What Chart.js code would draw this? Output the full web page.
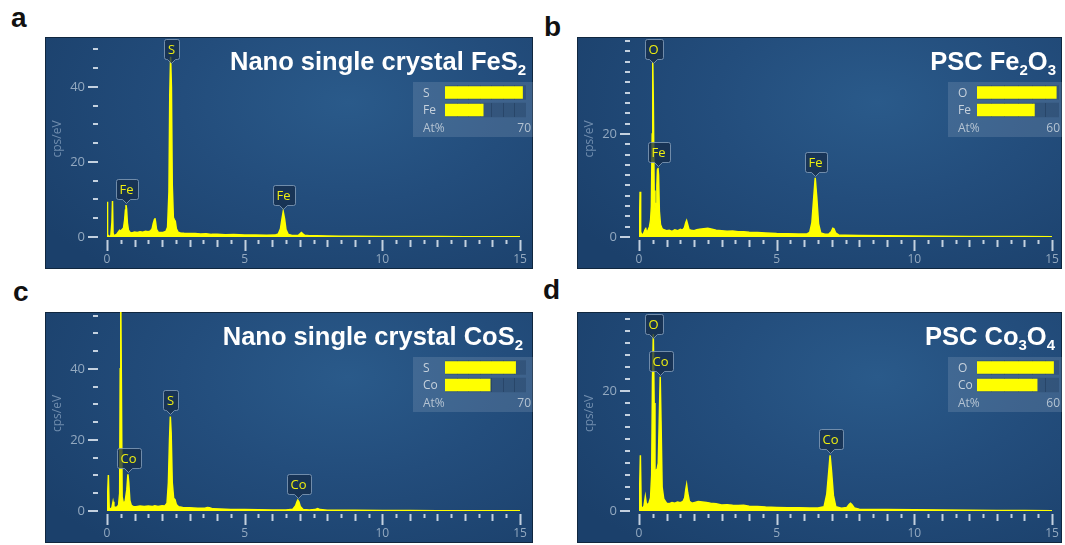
<!DOCTYPE html>
<html>
<head>
<meta charset="utf-8">
<script src="https://cdn.jsdelivr.net/npm/chart.js@4.4.1/dist/chart.umd.min.js"></script>
<style>
  body { margin: 0; background: #fff; width: 1065px; height: 545px; position: relative; overflow: hidden; font-family: "Liberation Sans", Arial, sans-serif; }
  .letter { position: absolute; font-weight: bold; font-size: 28px; line-height: 28px; color: #111; }
  .panel { position: absolute; overflow: hidden;
    background: radial-gradient(ellipse 75% 95% at 62% 28%, #2a5a8a 0%, #234d7c 45%, #1b406b 100%);
    box-shadow: inset 0 0 0 1px #10273f; }
  .panel canvas { position: absolute; }
  .title { position: absolute; top: 12px; color: #fff; font-weight: bold; font-size: 25.5px; line-height: 25px; white-space: nowrap; }
  .title span { font-size: 15px; position: relative; top: 5px; }
  .atbox { position: absolute; background: rgba(160, 178, 200, 0.22); }
</style>
</head>
<body>

<div class="letter" style="left:11px; top:4px;">a</div>
<div class="letter" style="left:544px; top:13px;">b</div>
<div class="letter" style="left:13px; top:278px;">c</div>
<div class="letter" style="left:543px; top:276px;">d</div>

<div class="panel" style="left:45px; top:37px; width:488px; height:232px;">
  <canvas id="specA" width="488" height="232" style="left:0; top:0;"></canvas>
  <div class="title" style="right:7px;">Nano single crystal FeS<span>2</span></div>
  <div class="atbox" style="left:368px; top:45px; width:120px; height:55px;"><canvas id="atA" width="120" height="55" style="left:0; top:0;"></canvas></div>
</div>

<div class="panel" style="left:577px; top:37px; width:485px; height:232px;">
  <canvas id="specB" width="485" height="232" style="left:0; top:0;"></canvas>
  <div class="title" style="right:6px;">PSC Fe<span>2</span>O<span>3</span></div>
  <div class="atbox" style="left:371px; top:45px; width:114px; height:55px;"><canvas id="atB" width="114" height="55" style="left:0; top:0;"></canvas></div>
</div>

<div class="panel" style="left:45px; top:312px; width:488px; height:231px;">
  <canvas id="specC" width="488" height="231" style="left:0; top:0;"></canvas>
  <div class="title" style="right:10px;">Nano single crystal CoS<span>2</span></div>
  <div class="atbox" style="left:368px; top:45px; width:120px; height:55px;"><canvas id="atC" width="120" height="55" style="left:0; top:0;"></canvas></div>
</div>

<div class="panel" style="left:577px; top:312px; width:485px; height:231px;">
  <canvas id="specD" width="485" height="231" style="left:0; top:0;"></canvas>
  <div class="title" style="right:7px;">PSC Co<span>3</span>O<span>4</span></div>
  <div class="atbox" style="left:371px; top:45px; width:114px; height:55px;"><canvas id="atD" width="114" height="55" style="left:0; top:0;"></canvas></div>
</div>

<script>
// ---- spectra (keV vs cps/eV) ----
const energyA = [0, 0.01, 0.03, 0.06, 0.10, 0.14, 0.18, 0.20, 0.22, 0.26, 0.30, 0.36, 0.42, 0.46, 0.50, 0.55, 0.60, 0.64, 0.67, 0.69, 0.71, 0.74, 0.78, 0.84, 0.90, 1.00, 1.10, 1.20, 1.30, 1.40, 1.50, 1.58, 1.64, 1.68, 1.72, 1.74, 1.76, 1.80, 1.86, 1.95, 2.05, 2.14, 2.20, 2.25, 2.28, 2.31, 2.34, 2.37, 2.41, 2.45, 2.48, 2.52, 2.58, 2.66, 2.80, 3.00, 3.20, 3.40, 3.60, 3.80, 4.00, 4.30, 4.60, 5.00, 5.40, 5.80, 6.10, 6.22, 6.30, 6.35, 6.40, 6.45, 6.50, 6.58, 6.70, 6.85, 6.96, 7.02, 7.06, 7.10, 7.18, 7.35, 7.60, 8.00, 8.50, 9.00, 10.0, 11.0, 12.0, 13.0, 14.0, 15.0];
const countsA = [0, 9.4, 0.6, 0.3, 0.2, 0.4, 4.0, 9.6, 1.0, 0.4, 0.5, 0.8, 1.4, 1.8, 1.6, 2.0, 2.4, 4.5, 7.2, 8.5, 7.6, 3.8, 1.8, 1.2, 1.1, 1.3, 1.2, 1.4, 1.3, 1.5, 1.4, 1.6, 2.2, 3.6, 4.6, 5.0, 4.2, 2.0, 1.3, 1.2, 1.3, 1.5, 2.6, 12, 38, 48, 40, 14, 5.2, 4.6, 4.2, 2.2, 1.3, 1.1, 1.0, 0.9, 0.95, 0.8, 0.85, 0.7, 0.75, 0.6, 0.65, 0.5, 0.5, 0.45, 0.5, 0.8, 2.2, 4.6, 6.8, 4.8, 2.0, 0.7, 0.45, 0.4, 0.5, 0.9, 1.2, 0.9, 0.45, 0.35, 0.3, 0.25, 0.2, 0.22, 0.15, 0.12, 0.1, 0.08, 0.06, 0.05];

const energyB = [0, 0.02, 0.04, 0.06, 0.10, 0.16, 0.22, 0.24, 0.27, 0.32, 0.38, 0.42, 0.45, 0.48, 0.50, 0.52, 0.55, 0.58, 0.62, 0.65, 0.67, 0.69, 0.71, 0.74, 0.78, 0.84, 0.90, 1.00, 1.10, 1.20, 1.30, 1.40, 1.50, 1.58, 1.65, 1.70, 1.73, 1.76, 1.82, 1.90, 2.00, 2.10, 2.20, 2.35, 2.50, 2.65, 2.80, 3.00, 3.20, 3.40, 3.60, 3.80, 4.00, 4.30, 4.60, 5.00, 5.40, 5.80, 6.10, 6.20, 6.28, 6.34, 6.40, 6.46, 6.52, 6.60, 6.75, 6.90, 6.98, 7.04, 7.08, 7.14, 7.25, 7.50, 8.00, 9.00, 10.0, 11.0, 12.0, 13.0, 14.0, 15.0];
const countsB = [0, 3.0, 8.8, 1.0, 0.4, 0.6, 1.4, 1.8, 1.0, 1.2, 2.0, 3.2, 6, 20, 34, 26, 9, 5.6, 6.5, 10, 13.0, 13.4, 12, 5, 2.4, 1.6, 1.4, 1.2, 1.3, 1.1, 1.4, 1.2, 1.5, 1.3, 1.8, 2.8, 3.2, 2.6, 1.4, 1.3, 1.2, 1.4, 1.5, 1.6, 1.7, 1.5, 1.3, 1.2, 1.1, 1.15, 1.0, 1.0, 0.9, 0.85, 0.8, 0.7, 0.65, 0.6, 0.6, 0.9, 2.8, 7.2, 11.5, 7.4, 2.6, 0.8, 0.55, 0.6, 1.0, 1.7, 1.6, 0.8, 0.4, 0.35, 0.3, 0.25, 0.2, 0.15, 0.12, 0.1, 0.08, 0.05];

const energyC = [0, 0.02, 0.05, 0.08, 0.12, 0.18, 0.22, 0.25, 0.30, 0.36, 0.42, 0.46, 0.48, 0.50, 0.52, 0.55, 0.60, 0.66, 0.72, 0.76, 0.79, 0.83, 0.88, 0.95, 1.05, 1.20, 1.35, 1.50, 1.65, 1.74, 1.85, 2.00, 2.10, 2.18, 2.23, 2.27, 2.30, 2.33, 2.37, 2.42, 2.47, 2.52, 2.60, 2.75, 3.00, 3.30, 3.55, 3.65, 3.72, 3.85, 4.10, 4.50, 5.00, 5.50, 6.00, 6.50, 6.75, 6.85, 6.90, 6.93, 6.97, 7.02, 7.12, 7.35, 7.55, 7.65, 7.74, 8.00, 9.00, 10.0, 11.0, 12.0, 13.0, 14.0, 15.0];
const countsC = [0, 4, 10.1, 0.8, 0.5, 1.0, 2.6, 1.2, 1.0, 1.1, 1.6, 5, 40, 60, 38, 4, 2.0, 2.8, 6, 10.3, 8, 3, 1.6, 1.3, 1.2, 1.4, 1.3, 1.4, 1.3, 1.5, 1.3, 1.5, 1.4, 2.2, 8, 20, 26.6, 22, 8, 3.6, 3.2, 1.8, 1.2, 1.0, 0.9, 0.8, 0.8, 1.0, 0.9, 0.6, 0.55, 0.45, 0.4, 0.35, 0.3, 0.3, 0.5, 1.5, 2.6, 3.1, 2.6, 1.3, 0.4, 0.3, 0.4, 0.7, 0.4, 0.2, 0.18, 0.15, 0.12, 0.1, 0.08, 0.06, 0.05];

const energyD = [0, 0.02, 0.05, 0.08, 0.12, 0.18, 0.23, 0.26, 0.30, 0.36, 0.42, 0.46, 0.49, 0.52, 0.55, 0.58, 0.62, 0.66, 0.70, 0.73, 0.77, 0.80, 0.84, 0.90, 1.00, 1.10, 1.20, 1.30, 1.40, 1.50, 1.60, 1.66, 1.70, 1.73, 1.77, 1.83, 1.92, 2.00, 2.15, 2.30, 2.45, 2.60, 2.80, 3.00, 3.20, 3.40, 3.60, 3.80, 4.00, 4.30, 4.60, 5.00, 5.40, 5.80, 6.20, 6.50, 6.72, 6.82, 6.89, 6.94, 6.99, 7.06, 7.15, 7.35, 7.55, 7.63, 7.68, 7.73, 7.82, 8.00, 9.00, 10.0, 11.0, 12.0, 13.0, 14.0, 15.0];
const countsD = [0, 3, 9.3, 0.8, 0.4, 0.8, 2.4, 1.4, 1.0, 1.3, 2.2, 6, 22, 29.5, 18, 6.5, 6.8, 7, 8, 14, 22.4, 15, 4, 2, 1.3, 1.2, 1.4, 1.3, 1.5, 1.4, 1.6, 2.2, 3.6, 4.4, 3.0, 1.6, 1.3, 1.4, 1.6, 1.5, 1.4, 1.3, 1.2, 1.0, 1.05, 0.95, 0.9, 0.95, 0.8, 0.75, 0.65, 0.6, 0.55, 0.55, 0.5, 0.5, 0.7, 2.8, 6.5, 9.3, 6.8, 2.6, 0.7, 0.45, 0.6, 1.1, 1.3, 1.1, 0.5, 0.3, 0.25, 0.2, 0.15, 0.12, 0.1, 0.08, 0.06];

// ---- peak identification tags ----
const peakNamesA = ['S', 'Fe', 'Fe'];
const peakEnergiesA = [2.31, 0.69, 6.40];
const peakNamesB = ['O', 'Fe', 'Fe'];
const peakEnergiesB = [0.50, 0.69, 6.40];
const peakNamesC = ['S', 'Co', 'Co'];
const peakEnergiesC = [2.30, 0.76, 6.93];
const peakNamesD = ['O', 'Co', 'Co'];
const peakEnergiesD = [0.52, 0.77, 6.94];

// ---- quantification (At%) ----
const atElementsA = ['S', 'Fe'];
const atPercentA = [67, 33];
const atElementsB = ['O', 'Fe'];
const atPercentB = [58, 42];
const atElementsC = ['S', 'Co'];
const atPercentC = [61, 39];
const atElementsD = ['O', 'Co'];
const atPercentD = [56, 44];

// ---- axes ----
const xTickValues = [0, 5, 10, 15];
const yLabelValues = [0, 20, 40];

const YELLOW = '#ffff00';
const TICK = 'rgba(214, 224, 235, 0.9)';
const LABEL = '#93a9c0';
const FONT = '"Open Sans", "Noto Sans", sans-serif';

// draws the ruler-like axes, tick labels and peak tags
const edsAxes = {
    id: 'edsAxes',
    afterDatasetsDraw(chart, args, opts) {
        const {ctx, chartArea: area, scales: {x, y}} = chart;
        const ds = chart.data.datasets[0].data;
        ctx.save();
        ctx.font = '13px ' + FONT;
        ctx.textAlign = 'center';
        ctx.textBaseline = 'middle';
        opts.names.forEach((name, i) => {
            const e = opts.energies[i];
            let top = 0;
            ds.forEach(p => { if (Math.abs(p.x - e) <= 0.04 && p.y > top) top = p.y; });
            const px = Math.round(x.getPixelForValue(e)) + 0.5;
            const py = y.getPixelForValue(top);
            const w = Math.round(ctx.measureText(name).width) + 8;
            const h = 20;
            let by = Math.max(area.top + 2, py - 6 - h);
            const bx = Math.round(px - w / 2) + 0.5;
            by = Math.round(by) + 0.5;
            ctx.beginPath();
            ctx.moveTo(bx + 2, by);
            ctx.lineTo(bx + w - 2, by);
            ctx.quadraticCurveTo(bx + w, by, bx + w, by + 2);
            ctx.lineTo(bx + w, by + h - 2);
            ctx.quadraticCurveTo(bx + w, by + h, bx + w - 2, by + h);
            ctx.lineTo(px + 4, by + h);
            ctx.lineTo(px, by + h + 4);
            ctx.lineTo(px - 4, by + h);
            ctx.lineTo(bx + 2, by + h);
            ctx.quadraticCurveTo(bx, by + h, bx, by + h - 2);
            ctx.lineTo(bx, by + 2);
            ctx.quadraticCurveTo(bx, by, bx + 2, by);
            ctx.closePath();
            ctx.fillStyle = 'rgba(22, 44, 74, 0.75)';
            ctx.fill();
            ctx.strokeStyle = 'rgba(135, 160, 188, 0.8)';
            ctx.lineWidth = 1;
            ctx.stroke();
            ctx.fillStyle = '#eeee10';
            ctx.fillText(name, px, by + h / 2 + 1);
        });
        ctx.restore();
    },
    afterDraw(chart, args, opts) {
        const {ctx, chartArea: area, scales: {x, y}} = chart;
        ctx.save();
        ctx.strokeStyle = TICK;
        ctx.lineWidth = 2;
        // y ruler: long dash on labelled values
        for (let v = 0; v <= opts.yTickTop; v += opts.yStep) {
            const py = Math.round(y.getPixelForValue(v));
            const major = v % 20 === 0;
            ctx.beginPath();
            ctx.moveTo(area.left - (major ? 19 : 14), py);
            ctx.lineTo(area.left - 9, py);
            ctx.stroke();
        }
        // x ruler every 0.5 keV
        for (let i = 0; i <= 30; i++) {
            const px = Math.round(x.getPixelForValue(i / 2)) + 0.5;
            const len = i % 10 === 0 ? 11 : (i % 2 === 0 ? 7 : 4);
            ctx.beginPath();
            ctx.moveTo(px, area.bottom + 3);
            ctx.lineTo(px, area.bottom + 3 + len);
            ctx.stroke();
        }
        ctx.fillStyle = LABEL;
        ctx.font = '13px ' + FONT;
        ctx.textAlign = 'right';
        ctx.textBaseline = 'middle';
        yLabelValues.forEach(v => {
            if (v <= opts.yTickTop) ctx.fillText(String(v), area.left - 22, y.getPixelForValue(v));
        });
        ctx.textAlign = 'center';
        ctx.font = '12px ' + FONT;
        xTickValues.forEach(v => ctx.fillText(String(v), x.getPixelForValue(v), area.bottom + 23));
        // axis unit
        ctx.fillStyle = '#6f8cad';
        ctx.translate(13, (area.top + area.bottom) / 2 + 2);
        ctx.rotate(-Math.PI / 2);
        ctx.fillText('cps/eV', 0, 0);
        ctx.restore();
    }
};

function makeSpectrum(id, energy, counts, names, energies, yMax, yStep, yTickTop, padRight, padBottom) {
    const ctx = document.getElementById(id).getContext('2d');
    return new Chart(ctx, {
        type: 'line',
        data: {
            datasets: [{
                data: energy.map((e, i) => ({x: e, y: counts[i]})),
                borderColor: YELLOW,
                backgroundColor: YELLOW,
                borderWidth: 1.5,
                fill: 'origin',
                pointRadius: 0,
                tension: 0
            }]
        },
        options: {
            responsive: false,
            animation: false,
            events: [],
            layout: {padding: {left: 62, right: padRight, top: 0, bottom: padBottom}},
            scales: {
                x: {type: 'linear', min: 0, max: 15, display: false},
                y: {type: 'linear', min: 0, max: yMax, display: false}
            },
            plugins: {
                legend: {display: false},
                tooltip: {enabled: false},
                edsAxes: {names: names, energies: energies, yStep: yStep, yTickTop: yTickTop}
            }
        },
        plugins: [edsAxes]
    });
}

// element labels, track dividers and scale text of the At% box
const atDecor = {
    id: 'atDecor',
    afterDatasetDraw(chart, args) {
        if (args.index !== 1) return;
        const {ctx, scales: {x}} = chart;
        const max = x.max;
        ctx.save();
        ctx.strokeStyle = 'rgba(18, 38, 64, 0.3)';
        ctx.lineWidth = 1;
        args.meta.data.forEach(bar => {
            const {y, height} = bar.getProps(['y', 'height'], true);
            for (let v = 10; v < max; v += 10) {
                const px = Math.round(x.getPixelForValue(v)) + 0.5;
                ctx.beginPath();
                ctx.moveTo(px, y - height / 2);
                ctx.lineTo(px, y + height / 2);
                ctx.stroke();
            }
        });
        ctx.restore();
    },
    afterDraw(chart) {
        const {ctx, chartArea: area, scales: {x, y}} = chart;
        ctx.save();
        ctx.font = '12px ' + FONT;
        ctx.fillStyle = '#c6d1dc';
        ctx.textBaseline = 'middle';
        ctx.textAlign = 'left';
        chart.data.labels.forEach((lab, i) => ctx.fillText(lab, 10, y.getPixelForValue(i) + 1));
        ctx.fillStyle = '#b4c3d2';
        ctx.fillText('At%', 10, area.bottom + 10);
        ctx.textAlign = 'right';
        ctx.fillText(String(x.max), chart.width - 2, area.bottom + 10);
        ctx.restore();
    }
};

function makeAtChart(id, elements, percent, max, padLeft, padRight) {
    const ctx = document.getElementById(id).getContext('2d');
    return new Chart(ctx, {
        type: 'bar',
        data: {
            labels: elements,
            datasets: [
                {data: percent, backgroundColor: YELLOW, barThickness: 12, grouped: false, order: 0},
                {data: elements.map(() => max), backgroundColor: 'rgba(28, 52, 86, 0.3)', barThickness: 14, grouped: false, order: 1}
            ]
        },
        options: {
            indexAxis: 'y',
            responsive: false,
            animation: false,
            events: [],
            layout: {padding: {left: padLeft, right: padRight, top: 1.75, bottom: 18.25}},
            scales: {
                x: {min: 0, max: max, display: false},
                y: {display: false}
            },
            plugins: {legend: {display: false}, tooltip: {enabled: false}}
        },
        plugins: [atDecor]
    });
}

makeSpectrum('specA', energyA, countsA, peakNamesA, peakEnergiesA, 53.3, 5, 50, 13, 32);
makeSpectrum('specB', energyB, countsB, peakNamesB, peakEnergiesB, 38.8, 2, 38, 10, 32);
makeSpectrum('specC', energyC, countsC, peakNamesC, peakEnergiesC, 56, 5, 55, 13, 32);
makeSpectrum('specD', energyD, countsD, peakNamesD, peakEnergiesD, 33.2, 2, 32, 10, 32);

makeAtChart('atA', atElementsA, atPercentA, 70, 32, 7);
makeAtChart('atB', atElementsB, atPercentB, 60, 29, 3);
makeAtChart('atC', atElementsC, atPercentC, 70, 32, 7);
makeAtChart('atD', atElementsD, atPercentD, 60, 29, 3);
</script>
</body>
</html>
